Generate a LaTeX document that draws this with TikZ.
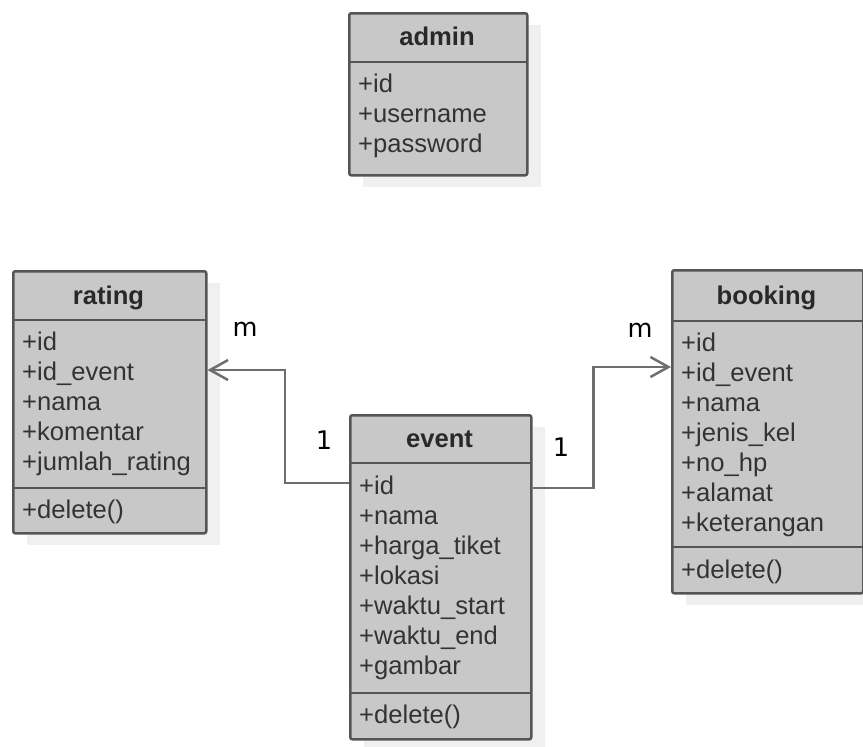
\documentclass[tikz,border=0pt]{standalone}
\usepackage{fontspec}
\setmainfont{Liberation Sans}
\newfontfamily\lblfont{DejaVu Sans}
\usetikzlibrary{arrows.meta}
\definecolor{boxfill}{HTML}{C8C8C8}
\definecolor{boxline}{HTML}{555555}
\definecolor{shadowc}{HTML}{F0F0F0}
\definecolor{conncol}{HTML}{6E6E6E}
\definecolor{txtcol}{HTML}{333333}
\tikzset{
  classbox/.style={draw=boxline, fill=boxfill, line width=2.5pt, rounded corners=2pt, inner sep=0pt},
  shadowbox/.style={fill=shadowc, draw=none},
  sepline/.style={draw=boxline, line width=2.5pt},
  ctitle/.style={font=\fontsize{25.6}{30}\selectfont\bfseries, text=txtcol!80!black, anchor=base, inner sep=0pt},
  attr/.style={font=\fontsize{25.6}{30}\selectfont, text=txtcol, anchor=base west, inner sep=0pt},
  assoc/.style={draw=conncol, line width=2.5pt, -{Straight Barb[length=18pt,width=20pt,line width=2.5pt]}},
  mult/.style={font=\lblfont\fontsize{25.6}{30}\selectfont, text=black, inner sep=0pt}
}
\begin{document}
\begin{tikzpicture}[x=1pt,y=-1pt]
\useasboundingbox (0,0) rectangle (863,747);

% ---------- admin ----------
\fill[shadowbox] (363,25) rectangle (541,187);
\node[classbox, anchor=north west, minimum width=178pt, minimum height=162pt] (admin) at (348,12) {};
\draw[sepline] (348,62) -- (526,62);
\node[ctitle] (admin-t) at (437,45) {admin};
\node[attr] (admin-a1) at (358,92) {+id};
\node[attr] (admin-a2) at (358,122) {+username};
\node[attr] (admin-a3) at (358,152) {+password};

% ---------- rating ----------
\fill[shadowbox] (27,283) rectangle (220,545);
\node[classbox, anchor=north west, minimum width=193pt, minimum height=262pt] (rating) at (12,270) {};
\draw[sepline] (12,320) -- (205,320);
\draw[sepline] (12,488) -- (205,488);
\node[ctitle] (rating-t) at (108.5,304) {rating};
\node[attr] (rating-a1) at (22,350) {+id};
\node[attr] (rating-a2) at (22,380) {+id\_event};
\node[attr] (rating-a3) at (22,410) {+nama};
\node[attr] (rating-a4) at (22,440) {+komentar};
\node[attr] (rating-a5) at (22,470) {+jumlah\_rating};
\node[attr] (rating-m1) at (22,518) {+delete()};

% ---------- event ----------
\fill[shadowbox] (364,427) rectangle (545,751);
\node[classbox, anchor=north west, minimum width=181pt, minimum height=324pt] (event) at (349,414) {};
\draw[sepline] (349,463) -- (530,463);
\draw[sepline] (349,693) -- (530,693);
\node[ctitle] (event-t) at (439.5,447) {event};
\node[attr] (event-a1) at (359,494) {+id};
\node[attr] (event-a2) at (359,524) {+nama};
\node[attr] (event-a3) at (359,554) {+harga\_tiket};
\node[attr] (event-a4) at (359,584) {+lokasi};
\node[attr] (event-a5) at (359,614) {+waktu\_start};
\node[attr] (event-a6) at (359,644) {+waktu\_end};
\node[attr] (event-a7) at (359,674) {+gambar};
\node[attr] (event-m1) at (359,723) {+delete()};

% ---------- booking ----------
\fill[shadowbox] (686,282) rectangle (877,605);
\node[classbox, anchor=north west, minimum width=191pt, minimum height=323pt] (booking) at (671,269) {};
\draw[sepline] (671,321) -- (862,321);
\draw[sepline] (671,547) -- (862,547);
\node[ctitle] (booking-t) at (766.5,304) {booking};
\node[attr] (booking-a1) at (681,351) {+id};
\node[attr] (booking-a2) at (681,381) {+id\_event};
\node[attr] (booking-a3) at (681,411) {+nama};
\node[attr] (booking-a4) at (681,441) {+jenis\_kel};
\node[attr] (booking-a5) at (681,471) {+no\_hp};
\node[attr] (booking-a6) at (681,501) {+alamat};
\node[attr] (booking-a7) at (681,531) {+keterangan};
\node[attr] (booking-m1) at (681,578) {+delete()};

% ---------- associations ----------
\draw[assoc] ([yshift=-69pt]event.north west) -- ++(-64,0) |- ([yshift=-100pt]rating.north east);
\draw[assoc] ([yshift=-74pt]event.north east) -- ++(61,0) |- ([yshift=-98pt]booking.north west);

\node[mult] (m-rating) at (245,329) {m};
\node[mult] (one-rating) at (324,440) {1};
\node[mult] (m-booking) at (640,330) {m};
\node[mult] (one-booking) at (561,447) {1};
\end{tikzpicture}
\end{document}
